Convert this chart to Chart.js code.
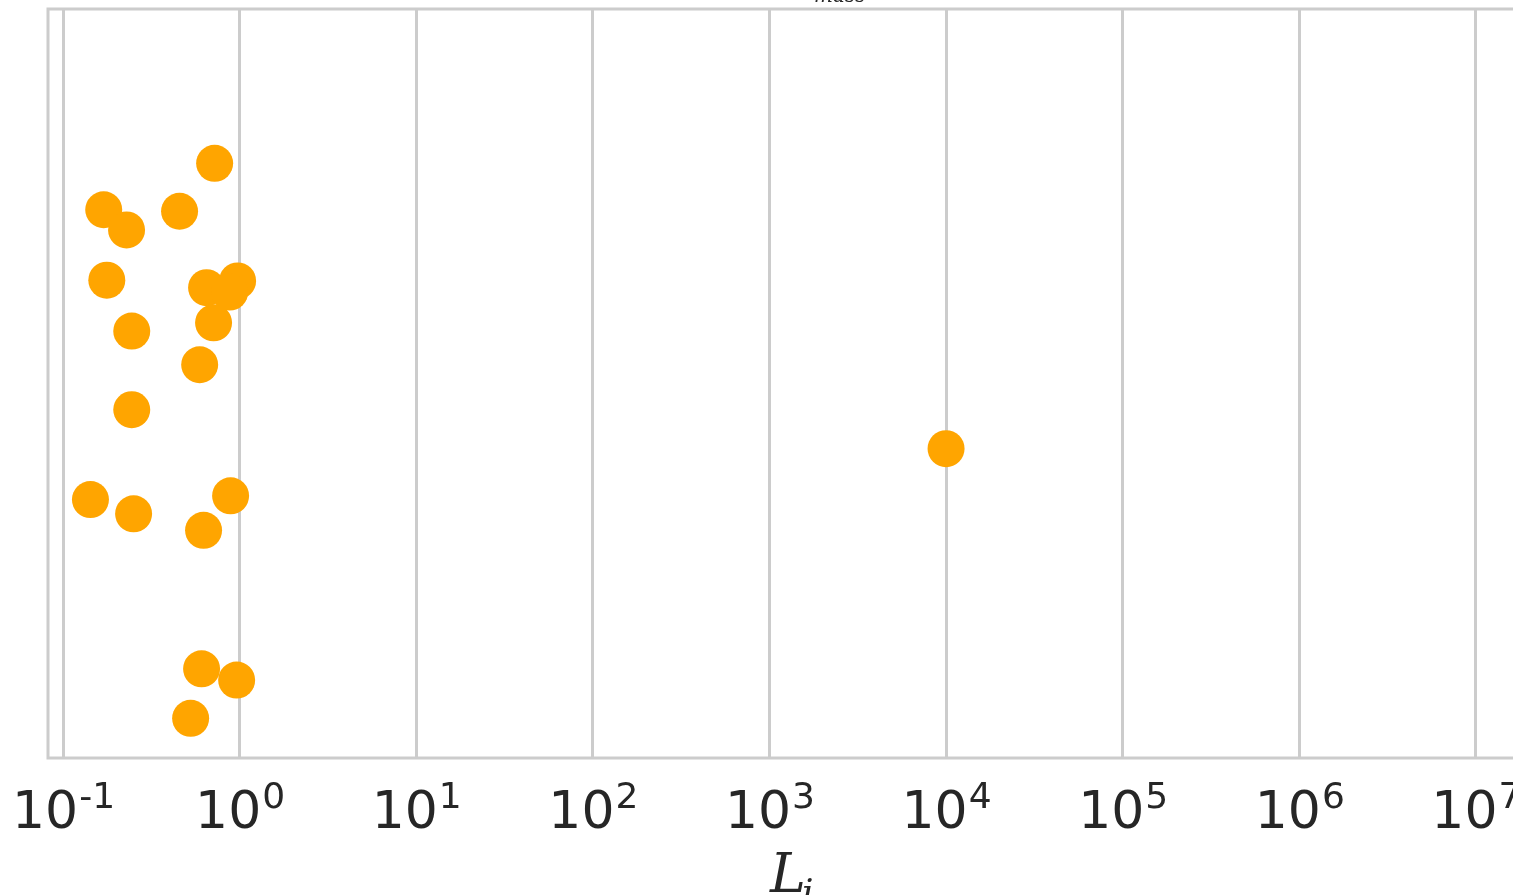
<!DOCTYPE html>
<html>
<head>
<meta charset="utf-8">
<script src="https://cdn.jsdelivr.net/npm/chart.js@4/dist/chart.umd.min.js"></script>
<style>
    html, body { margin: 0; padding: 0; background: #fff; overflow: hidden; width: 1513px; height: 895px; }
    #wrap { position: absolute; left: 0; top: -50px; width: 1560px; height: 980px; }
</style>
</head>
<body>
<div id="wrap"><canvas id="scatterChart"></canvas></div>
<script>
/*************************************************
 * Data
 *************************************************/
const lValues = [0.722, 0.170, 0.457, 0.229, 0.177, 0.974, 0.650, 0.878, 0.712, 0.245,
                 0.594, 0.245, 10000, 0.143, 0.889, 0.251, 0.625, 0.609, 0.962, 0.528];
const jitter  = [-0.294, -0.232, -0.230, -0.205, -0.138, -0.137, -0.128, -0.122, -0.081, -0.070,
                 -0.025, 0.035, 0.087, 0.155, 0.150, 0.174, 0.196, 0.381, 0.396, 0.447];
const tickExponents = [-1, 0, 1, 2, 3, 4, 5, 6, 7];

const GRID = "#cccccc";
const TEXT = "#262626";

/*************************************************
 * Frame, power-of-ten tick labels, axis titles
 *************************************************/
const decorPlugin = {
    id: "decor",
    afterDraw(chart) {
        const { ctx, chartArea: a } = chart;
        const xs = chart.scales.x;
        ctx.save();
        ctx.strokeStyle = GRID;
        ctx.lineWidth = 3;
        ctx.strokeRect(a.left, a.top, a.right - a.left, a.bottom - a.top);

        // tick labels: 10 with a raised exponent
        ctx.fillStyle = TEXT;
        ctx.textBaseline = "alphabetic";
        ctx.textAlign = "left";
        const base = a.bottom + 70;
        tickExponents.forEach(e => {
            const px = xs.getPixelForValue(Math.pow(10, e));
            ctx.font = "52px 'DejaVu Sans'";
            const w1 = ctx.measureText("10").width;
            ctx.font = "36px 'DejaVu Sans'";
            const w2 = ctx.measureText(String(e)).width;
            const x0 = px - (w1 + w2) / 2;
            ctx.font = "52px 'DejaVu Sans'";
            ctx.fillText("10", x0, base);
            ctx.font = "36px 'DejaVu Sans'";
            ctx.fillText(String(e), x0 + w1 + 1, base - 20);
        });

        // x axis title L_i
        const mid = (a.left + a.right) / 2;
        ctx.font = "italic 54px 'DejaVu Serif'";
        ctx.fillText("L", mid - 24, a.bottom + 134);
        ctx.font = "italic 36px 'DejaVu Serif'";
        ctx.fillText("i", mid + 8, a.bottom + 146);

        // title, mostly outside the window
        ctx.font = "italic 38px 'DejaVu Serif'";
        ctx.fillText("w", 787, 45);
        ctx.font = "italic 20px 'DejaVu Serif'";
        ctx.fillText("mass", 814, 52);
        ctx.restore();
    }
};

/*************************************************
 * Scatter Chart
 *************************************************/
const points = lValues.map((v, i) => ({ x: v, y: jitter[i] }));

new Chart(document.getElementById("scatterChart"), {
    type: "scatter",
    data: {
        datasets: [{
            data: points,
            backgroundColor: "#ffa500",
            borderWidth: 0,
            pointRadius: 18.5,
            pointHoverRadius: 18.5
        }]
    },
    options: {
        responsive: true,
        maintainAspectRatio: false,
        animation: false,
        layout: { padding: { top: 59, right: 20, left: 0, bottom: 0 } },
        plugins: { legend: { display: false }, tooltip: { enabled: false } },
        scales: {
            x: {
                type: "logarithmic",
                min: Math.pow(10, -1.085),
                max: Math.pow(10, 7.363),
                afterBuildTicks: s => { s.ticks = tickExponents.map(e => ({ value: Math.pow(10, e) })); },
                afterFit: s => { s.height = 172; s.paddingLeft = 0; s.paddingRight = 0; },
                grid: { color: GRID, lineWidth: 3, drawTicks: false },
                border: { display: false },
                ticks: { display: false }
            },
            y: {
                min: -0.5,
                max: 0.5,
                reverse: true,
                afterFit: s => { s.width = 48; },
                grid: { display: false },
                border: { display: false },
                ticks: { display: false }
            }
        }
    },
    plugins: [decorPlugin]
});
</script>
</body>
</html>
